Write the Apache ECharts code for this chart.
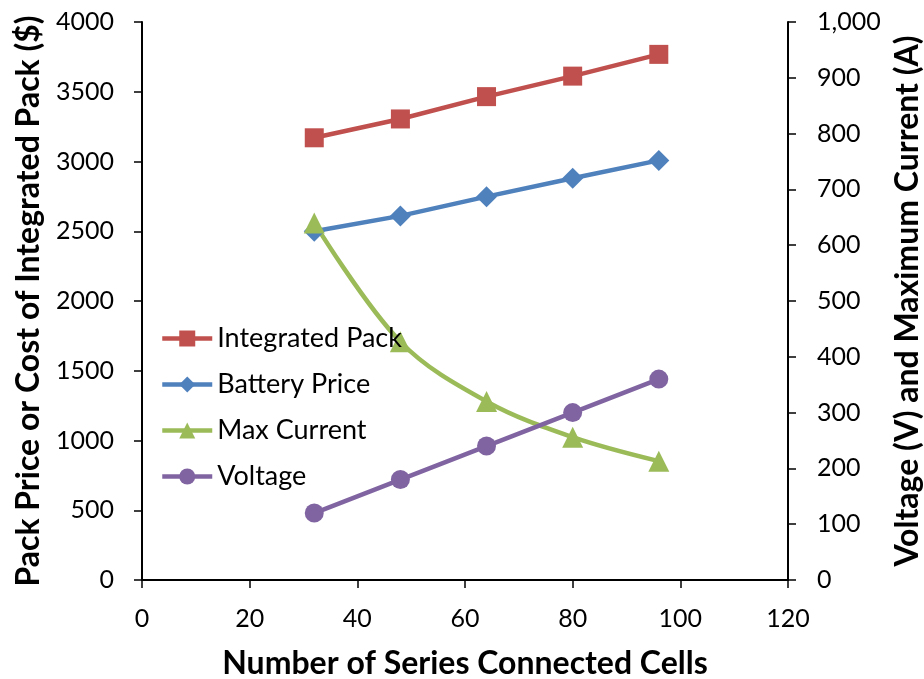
<!DOCTYPE html>
<html>
<head>
<meta charset="utf-8">
<script src="https://cdn.jsdelivr.net/npm/echarts@6/dist/echarts.min.js"></script>
<style>html,body{margin:0;padding:0;background:#fff}#c{width:924px;height:679px}</style>
</head>
<body>
<div id="c"></div>
<script>
var cells = [32, 48, 64, 80, 96];
var integratedPack = [3170, 3305, 3465, 3612, 3768];
var batteryPrice = [2500, 2610, 2748, 2880, 3008];
var maxCurrent = [640, 427, 320, 256, 213];
var voltage = [120, 180, 240, 300, 360];
var seriesNames = ['Integrated Pack', 'Battery Price', 'Max Current', 'Voltage'];
var xTitle = 'Number of Series Connected Cells';
var yLeftTitle = 'Pack Price or Cost of Integrated Pack ($)';
var yRightTitle = 'Voltage (V) and Maximum Current (A)';

function pairs(xs, ys){ return xs.map(function(x,i){ return [x, ys[i]]; }); }

var FONT = 'Lato';
var chart = echarts.init(document.getElementById('c'), null, {renderer:'canvas'});
var axisLine = {show:true, lineStyle:{color:'#000', width:2}};
var axisTick = {show:true, length:8, lineStyle:{color:'#000', width:1.5}};
var labelStyle = {color:'#000', fontFamily:FONT, fontSize:25};
var nameStyle = {color:'#000', fontFamily:FONT, fontSize:32, fontWeight:'bold'};

function mk(name, data, color, symbol, yIdx, smooth){
  return {
    name:name, type:'line', data:data, yAxisIndex:yIdx, smooth:smooth||false,
    symbol:symbol, symbolSize: symbol==='diamond'?21:(symbol==='triangle'?21:19),
    showAllSymbol:true,
    lineStyle:{color:color, width:4.5}, itemStyle:{color:color}, z: 2
  };
}

chart.setOption({
  animation:false,
  backgroundColor:'#fff',
  grid:{left:142, right:136, top:22, bottom:99, containLabel:false, outerBoundsMode:'none'},
  legend:{
    orient:'vertical', left:155, top:320, itemWidth:50, itemHeight:20, itemGap:19,
    lineStyle:{width:4.5},
    textStyle:{color:'#000', fontFamily:FONT, fontSize:27, lineHeight:27},
    data:seriesNames
  },
  xAxis:{
    type:'value', min:0, max:120, interval:20,
    name:xTitle, nameLocation:'middle', nameGap:68, nameTextStyle:nameStyle,
    axisLine:axisLine, axisTick:axisTick, splitLine:{show:false},
    axisLabel:Object.assign({margin:26}, labelStyle)
  },
  yAxis:[{
    type:'value', min:0, max:4000, interval:500, position:'left',
    name:yLeftTitle, nameLocation:'middle', nameGap:97, nameRotate:90, nameTextStyle:nameStyle,
    axisLine:axisLine, axisTick:axisTick, splitLine:{show:false},
    axisLabel:Object.assign({margin:28, formatter:function(v){return String(v);}}, labelStyle)
  },{
    type:'value', min:0, max:1000, interval:100, position:'right',
    name:yRightTitle, nameLocation:'middle', nameGap:103, nameRotate:90, nameTextStyle:nameStyle,
    axisLine:axisLine, axisTick:axisTick, splitLine:{show:false},
    axisLabel:Object.assign({margin:29, formatter:function(v){return v.toLocaleString('en-US');}}, labelStyle)
  }],
  series:[
    mk(seriesNames[0], pairs(cells, integratedPack), '#C0504D', 'rect', 0),
    mk(seriesNames[1], pairs(cells, batteryPrice), '#4F81BD', 'diamond', 0),
    mk(seriesNames[2], pairs(cells, maxCurrent), '#9BBB59', 'triangle', 1, 0.35),
    mk(seriesNames[3], pairs(cells, voltage), '#8064A2', 'circle', 1)
  ]
});
</script>
</body>
</html>
